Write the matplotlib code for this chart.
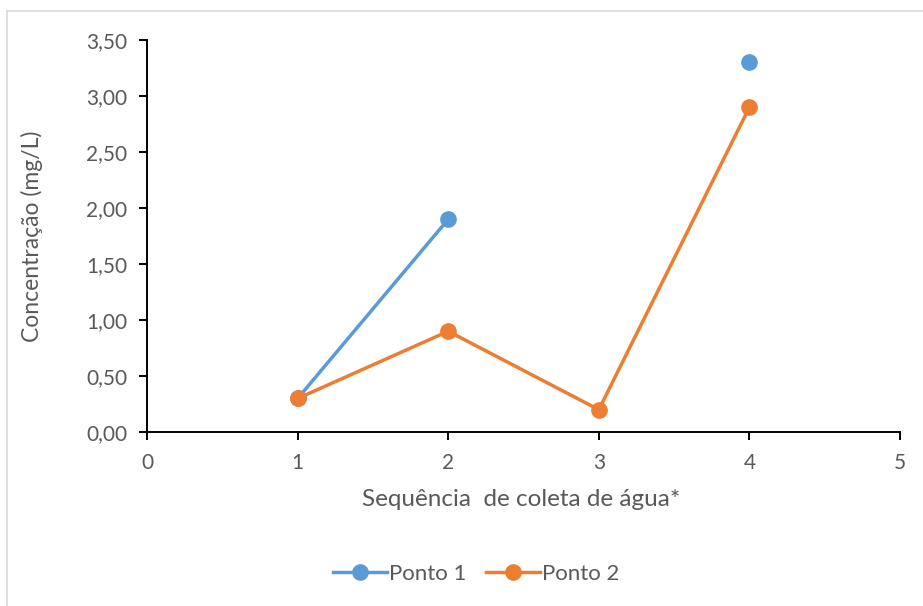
import matplotlib.pyplot as plt
import matplotlib.ticker as mticker
from matplotlib.lines import Line2D
import numpy as np

# Sample sequence and concentrations (mg/L); sample 3 missing for Ponto 1
sequencia = [1, 2, 3, 4]
ponto1 = [0.30, 1.90, np.nan, 3.30]
ponto2 = [0.30, 0.90, 0.20, 2.90]

plt.rcParams['font.family'] = ['Lato', 'DejaVu Sans']

fig = plt.figure(figsize=(9.23, 6.06), dpi=100)
ax = fig.add_axes([0.1593, 0.287, 0.8158, 0.647])

ax.plot(sequencia, ponto1, 'o-', color='#5B9BD5', linewidth=2.5,
        markersize=11, label='Ponto 1', zorder=3)
ax.plot(sequencia, ponto2, 'o-', color='#ED7D31', linewidth=2.5,
        markersize=11, label='Ponto 2', zorder=4)

ax.set_xlim(0, 5)
ax.set_ylim(0, 3.5)
ax.set_xticks(range(0, 6))
ax.set_yticks(np.arange(0, 3.51, 0.5))
ax.yaxis.set_major_formatter(
    mticker.FuncFormatter(lambda v, p: f'{v:.2f}'.replace('.', ',')))

for side in ['top', 'right']:
  ax.spines[side].set_visible(False)
for side in ['left', 'bottom']:
  ax.spines[side].set_linewidth(1.4)
  ax.spines[side].set_color('black')

ax.tick_params(axis='both', direction='out', length=6, width=1.4,
               color='black', labelcolor='#595959', labelsize=15)
ax.tick_params(axis='x', pad=9)
ax.tick_params(axis='y', pad=8)

ax.set_xlabel('Sequência  de coleta de água*', fontsize=17.5, color='#595959')
ax.set_ylabel('Concentração (mg/L)', fontsize=16.5, color='#595959')
ax.xaxis.set_label_coords(0.497, -0.173)
ax.yaxis.set_label_coords(-0.153, 0.5)
ax.xaxis.label.set_va('center')
ax.yaxis.label.set_va('center')

leg = fig.legend(loc='center', bbox_to_anchor=(0.516, 0.053), ncol=2,
                 frameon=False, fontsize=16, handlelength=2.4,
                 columnspacing=0.9, handletextpad=0.1)
for t in leg.get_texts():
  t.set_color('#595959')

# Chart area border (left and top edges visible)
fig.add_artist(Line2D([7 / 923, 7 / 923], [0, 1 - 11 / 606],
                      transform=fig.transFigure, color='#D9D9D9', linewidth=1.2))
fig.add_artist(Line2D([7 / 923, 1], [1 - 11 / 606, 1 - 11 / 606],
                      transform=fig.transFigure, color='#D9D9D9', linewidth=1.2))

fig.savefig('out.png', dpi=100)
